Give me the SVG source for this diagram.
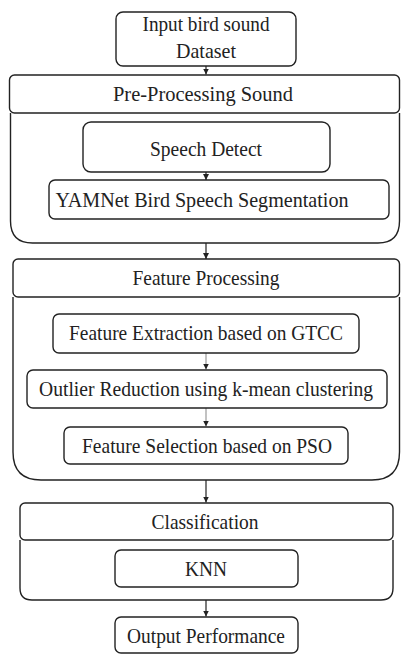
<svg xmlns="http://www.w3.org/2000/svg" width="401" height="655" viewBox="0 0 401 655">
<defs>
<style>
.b{fill:#fff;stroke:#222;stroke-width:1.4}
.c{fill:none;stroke:#222;stroke-width:1.4}
.t{font-family:"Liberation Serif","DejaVu Serif","Times New Roman",serif;font-size:21px;fill:#222;text-anchor:middle}
.a{stroke:#222;stroke-width:1.2;fill:none}
.g{stroke:#999;stroke-width:1.2;fill:none}
</style>
<marker id="ah" viewBox="0 0 6 6" refX="6" refY="3" markerWidth="6" markerHeight="6" markerUnits="userSpaceOnUse" orient="auto"><path d="M0,0 L6,3 L0,6 Z" fill="#222"/></marker>
</defs>
<rect width="401" height="655" fill="#fff"/>
<g id="connectors">
<line class="a" x1="206" y1="66" x2="206" y2="74.5" marker-end="url(#ah)"/>
<line class="a" x1="206" y1="172" x2="206" y2="180" marker-end="url(#ah)"/>
<line class="a" x1="206" y1="243" x2="206" y2="259" marker-end="url(#ah)"/>
<line class="g" x1="206" y1="353" x2="206" y2="369.5" marker-end="url(#ah)"/>
<line class="g" x1="206" y1="408" x2="206" y2="426.5" marker-end="url(#ah)"/>
<line class="a" x1="206" y1="480" x2="206" y2="502.5" marker-end="url(#ah)"/>
<line class="a" x1="206" y1="600" x2="206" y2="616.5" marker-end="url(#ah)"/>
</g>
<g id="input">
<rect class="b" x="116" y="12" width="180" height="54" rx="7"/>
<text class="t" x="206" y="31" textLength="127" lengthAdjust="spacingAndGlyphs">Input bird sound</text>
<text class="t" x="206" y="58" textLength="60" lengthAdjust="spacingAndGlyphs">Dataset</text>
</g>
<g id="preprocessing">
<path class="c" d="M10.5,113 V221 Q10.5,243 32.5,243 H378 Q399.5,243 399.5,221 V113"/>
<rect class="b" x="9.5" y="75" width="390" height="38" rx="5"/>
<text class="t" x="203" y="101" textLength="180" lengthAdjust="spacingAndGlyphs">Pre-Processing Sound</text>
</g>
<g id="speech-detect">
<rect class="b" x="83" y="122" width="247" height="50" rx="8"/>
<text class="t" x="206" y="156" textLength="112" lengthAdjust="spacingAndGlyphs">Speech Detect</text>
</g>
<g id="yamnet">
<rect class="b" x="49" y="180" width="340" height="39" rx="6"/>
<text class="t" x="202" y="207" textLength="293" lengthAdjust="spacingAndGlyphs">YAMNet Bird Speech Segmentation</text>
</g>
<g id="feature-processing">
<path class="c" d="M13,297 V452 Q13,480 41,480 H372 Q399.5,480 399.5,452 V297"/>
<rect class="b" x="13" y="259" width="386.5" height="38" rx="5"/>
<text class="t" x="206" y="285" textLength="147" lengthAdjust="spacingAndGlyphs">Feature Processing</text>
</g>
<g id="gtcc">
<rect class="b" x="53" y="314" width="306" height="39" rx="6"/>
<text class="t" x="206" y="340" textLength="274" lengthAdjust="spacingAndGlyphs">Feature Extraction based on GTCC</text>
</g>
<g id="outlier">
<rect class="b" x="27" y="370" width="360" height="38" rx="6"/>
<text class="t" x="206" y="396" textLength="334" lengthAdjust="spacingAndGlyphs">Outlier Reduction using k-mean clustering</text>
</g>
<g id="pso">
<rect class="b" x="64" y="427" width="284" height="37" rx="6"/>
<text class="t" x="207" y="453" textLength="250" lengthAdjust="spacingAndGlyphs">Feature Selection based on PSO</text>
</g>
<g id="classification">
<path class="c" d="M20,540 V588 Q20,600 32,600 H381 Q393,600 393,588 V540"/>
<rect class="b" x="20" y="503" width="373" height="37" rx="5"/>
<text class="t" x="205" y="529" textLength="107" lengthAdjust="spacingAndGlyphs">Classification</text>
</g>
<g id="knn">
<rect class="b" x="115" y="550" width="183" height="37" rx="6"/>
<text class="t" x="206" y="576" textLength="42" lengthAdjust="spacingAndGlyphs">KNN</text>
</g>
<g id="output">
<rect class="b" x="115" y="617" width="183" height="36" rx="6"/>
<text class="t" x="206" y="643" textLength="158" lengthAdjust="spacingAndGlyphs">Output Performance</text>
</g>
</svg>
